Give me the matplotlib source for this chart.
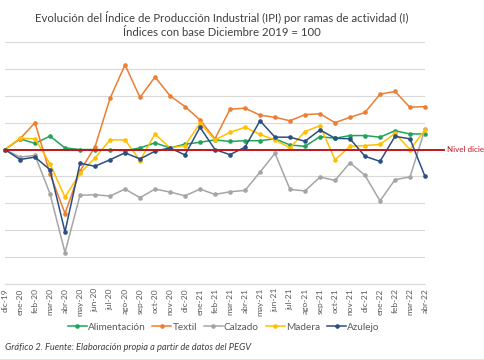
import matplotlib.pyplot as plt

plt.rcParams['font.family'] = ['Lato', 'DejaVu Sans']

meses = ['dic-19', 'ene-20', 'feb-20', 'mar-20', 'abr-20', 'may-20', 'jun-20', 'jul-20',
         'ago-20', 'sep-20', 'oct-20', 'nov-20', 'dic-20', 'ene-21', 'feb-21', 'mar-21',
         'abr-21', 'may-21', 'jun-21', 'jul-21', 'ago-21', 'sep-21', 'oct-21', 'nov-21',
         'dic-21', 'ene-22', 'feb-22', 'mar-22', 'abr-22']

alimentacion = [100, 104, 102.3, 105, 100.6, 100, 100, 99.9, 99.6, 100.6, 102.5, 100.6, 102,
                102.7, 103.6, 103, 103.3, 103.3, 104, 101.7, 101.2, 104.8, 104.2, 105.2, 105.2,
                104.6, 107, 105.8, 105.8]
textil = [100, 104, 110, 91, 76.2, 92, 101, 119, 131.5, 119.4, 127, 120, 116,
          111, 104, 115, 115.4, 112.8, 112, 110.7, 113, 113.3, 110, 112, 113.8,
          120.6, 121.6, 115.7, 116]
calzado = [100, 97.2, 97.8, 83.6, 61.7, 83, 83.2, 82.7, 85.3, 82.1, 85.3, 84.2, 82.8,
           85.3, 83.3, 84.3, 84.8, 91.6, 98.6, 85.2, 84.6, 89.8, 88.5, 95.1, 90.4,
           80.9, 88.8, 89.8, 107.6]
madera = [100, 104.2, 104, 94.7, 82.3, 91.2, 96.9, 103.6, 103.6, 95.9, 105.8, 100.6, 101.5,
          109.8, 103.6, 106.4, 108.3, 105.6, 103.6, 100.6, 106.7, 108.9, 96.2, 101.2, 101.5,
          101.9, 106, 100, 107.3]
azulejo = [100, 96.3, 97.2, 92.5, 69.4, 94.9, 93.8, 96.2, 98.8, 96.5, 99.4, 100.6, 98,
           108.3, 100, 98.1, 100.9, 110.7, 104.6, 104.6, 103.1, 107.3, 104.2, 104, 97.5,
           95.6, 104.9, 104, 90]

series = ['Alimentación', 'Textil', 'Calzado', 'Madera', 'Azulejo']
valores = [alimentacion, textil, calzado, madera, azulejo]
colores = ['#22a35a', '#ed7d31', '#a5a5a5', '#ffc000', '#2b4f82']
base = 100

fig = plt.figure(figsize=(4.85, 3.6), dpi=100)
ax = fig.add_axes([5/485, 1 - 284/360, 420/485, 242/360])

x = list(range(len(meses)))
for nombre, v, c in zip(series, valores, colores):
    ax.plot(x, v, color=c, lw=1.1, marker='o', ms=2.3, label=nombre, clip_on=False, zorder=3)

# nivel de referencia dic-2019 (el texto queda cortado por el borde, como en el original)
ax.plot([0, 29.3], [base, base], color='#c0161d', lw=1.4, clip_on=False, zorder=4)
ax.text(29.45, base, 'Nivel diciembre 2019', color='#c0161d', fontsize=5.8,
        va='center', ha='left', clip_on=False)

ax.set_xlim(0, len(meses) - 1)
ax.set_ylim(50, 140)
ax.set_yticks(range(50, 141, 10))
ax.set_yticklabels([])
ax.tick_params(axis='y', length=0)
ax.grid(axis='y', color='#d9d9d9', lw=0.8)
ax.set_axisbelow(True)
for s in ['left', 'right', 'top']:
    ax.spines[s].set_visible(False)
ax.spines['bottom'].set_color('#d9d9d9')
ax.set_xticks(x)
ax.set_xticklabels(meses, rotation=90, fontsize=6, color='#595959')
ax.tick_params(axis='x', length=0, pad=3)

fig.text(0.458, 1 - 17/360, 'Evolución del Índice de Producción Industrial (IPI) por ramas de actividad (I)',
         ha='center', va='center', fontsize=8.2, color='#404040')
fig.text(0.458, 1 - 33/360, 'Índices con base Diciembre 2019 = 100',
         ha='center', va='center', fontsize=8.2, color='#404040')

fig.legend(loc='center', bbox_to_anchor=(0.461, 1 - 327/360), ncol=5, frameon=False,
           fontsize=7.2, handlelength=1.9, columnspacing=0.7, handletextpad=0.1,
           labelcolor='#595959')

fig.text(5/485, 1 - 348/360, 'Gráfico 2. Fuente: Elaboración propia a partir de datos del PEGV',
         ha='left', va='center', fontsize=6.7, style='italic', color='#404040')

fig.add_artist(plt.Line2D([0, 1], [0.5/360, 0.5/360], color='#f3e1cf', lw=1.5))

fig.savefig('out.png', dpi=100)
